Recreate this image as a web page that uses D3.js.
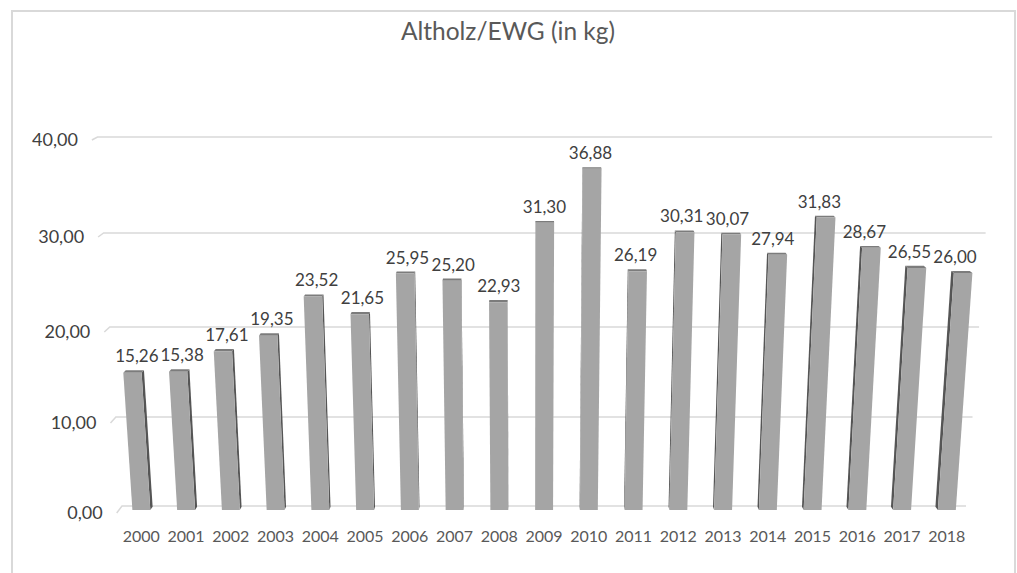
<!DOCTYPE html>
<html>
<head>
<meta charset="utf-8">
<script src="https://cdn.jsdelivr.net/npm/d3@7"></script>
<style>
body { margin: 0; background: #fff; }
svg { display: block; font-family: Lato, "Open Sans", sans-serif; }
</style>
</head>
<body>
<div id="chart"></div>
<script>
var years = ["2000","2001","2002","2003","2004","2005","2006","2007","2008","2009",
             "2010","2011","2012","2013","2014","2015","2016","2017","2018"];
var values = [15.26, 15.38, 17.61, 19.35, 23.52, 21.65, 25.95, 25.20, 22.93, 31.30,
              36.88, 26.19, 30.31, 30.07, 27.94, 31.83, 28.67, 26.55, 26.00];
var yTicks = [0, 10, 20, 30, 40];
var chartTitle = "Altholz/EWG (in kg)";

var width = 1017, height = 573;
var de = d3.formatLocale({decimal: ",", thousands: ".", grouping: [3], currency: ["", " €"]});
var fmt = de.format(".2f");

var svg = d3.select("#chart")
  .append("svg")
  .attr("width", width)
  .attr("height", height)

// outer frame of the chart area
svg.append("rect")
  .attr("x", 12).attr("y", 11)
  .attr("width", 1003).attr("height", 620)
  .attr("fill", "none")
  .attr("stroke", "#d9d9d9")
  .attr("stroke-width", 2)

// back wall scale (3D perspective: a bit squeezed toward the floor)
var yBack = d3.scaleLinear().domain(yTicks).range([506, 417, 327, 233, 137]);
// how far the front plane sits below the back wall
var yDepth = d3.scaleLinear().domain([0, 40]).range([7, 3]);
var x = d3.scaleBand()
  .domain(years)
  .range([122, 966])
  .paddingInner(0.6)
  .paddingOuter(0.3)

// simple perspective: things spread from cx as they get higher / closer
var cx = 530, k = 0.0015, m = 0.013;
function px(X, v, z) { return cx + (X - cx) * (1 + k * v) * (1 + m * (1 - z)); }
function py(v, z) { return yBack(v) + (1 - z) * yDepth(v); }
function pt(X, v, z) { return [px(X, v, z), py(v, z)]; }

var poly = d3.line().curve(d3.curveLinearClosed);
var open = d3.line();

var x0 = x.range()[0], x1 = x.range()[1];

// gridlines on back wall + short edge of the side wall
svg.append("g")
  .selectAll("path")
  .data(yTicks)
  .enter()
  .append("path")
  .attr("d", function(v) { return open([pt(x0, v, 0), pt(x0, v, 1), pt(x1, v, 1)]); })
  .attr("fill", "none")
  .attr("stroke", "#d9d9d9")
  .attr("stroke-width", 1.5)

// y labels
svg.append("g")
  .selectAll("text")
  .data(yTicks)
  .enter()
  .append("text")
  .attr("x", function(v) { return px(x0, v, 0) - 14; })
  .attr("y", function(v) { return py(v, 0) + 1; })
  .attr("text-anchor", "end")
  .attr("dominant-baseline", "middle")
  .attr("fill", "#404040")
  .style("font-size", "18px")
  .text(function(v) { return fmt(v); })

var data = years.map(function(y, i) { return {year: y, value: values[i]}; });
var zf = 0.43, zb = 0.9;

var bars = svg.append("g")
  .selectAll("g")
  .data(data)
  .enter()
  .append("g")

// side face (the one turned toward the middle)
bars.append("path")
  .attr("d", function(d) {
    var XL = x(d.year), XR = XL + x.bandwidth();
    var S = (XL + XR) / 2 > cx ? XL : XR;
    return poly([pt(S, 0, zf), pt(S, d.value, zf), pt(S, d.value, zb), pt(S, 0, zb)]);
  })
  .attr("fill", "#555555")

// top face
bars.append("path")
  .attr("d", function(d) {
    var XL = x(d.year), XR = XL + x.bandwidth();
    return poly([pt(XL, d.value, zf), pt(XR, d.value, zf), pt(XR, d.value, zb), pt(XL, d.value, zb)]);
  })
  .attr("fill", "#7c7c7c")

// front face
bars.append("path")
  .attr("d", function(d) {
    var XL = x(d.year), XR = XL + x.bandwidth();
    return poly([pt(XL, 0, zf), pt(XR, 0, zf), pt(XR, d.value, zf), pt(XL, d.value, zf)]);
  })
  .attr("fill", "#a5a5a5")

// value labels
bars.append("text")
  .attr("x", function(d) { return px(x(d.year) + x.bandwidth() / 2, d.value / 2, zf); })
  .attr("y", function(d) { return py(d.value, zb) - 8; })
  .attr("text-anchor", "middle")
  .attr("fill", "#404040")
  .style("font-size", "17px")
  .text(function(d) { return fmt(d.value); })

// year labels
bars.append("text")
  .attr("x", function(d) { return px(x(d.year) + x.bandwidth() / 2, 0, zf); })
  .attr("y", 538)
  .attr("text-anchor", "middle")
  .attr("dominant-baseline", "middle")
  .attr("fill", "#595959")
  .style("font-size", "16px")
  .text(function(d) { return d.year; })

// title
svg.append("text")
  .attr("x", 508)
  .attr("y", 34)
  .attr("text-anchor", "middle")
  .attr("dominant-baseline", "middle")
  .attr("fill", "#595959")
  .style("font-size", "24.5px")
  .text(chartTitle)
</script>
</body>
</html>
